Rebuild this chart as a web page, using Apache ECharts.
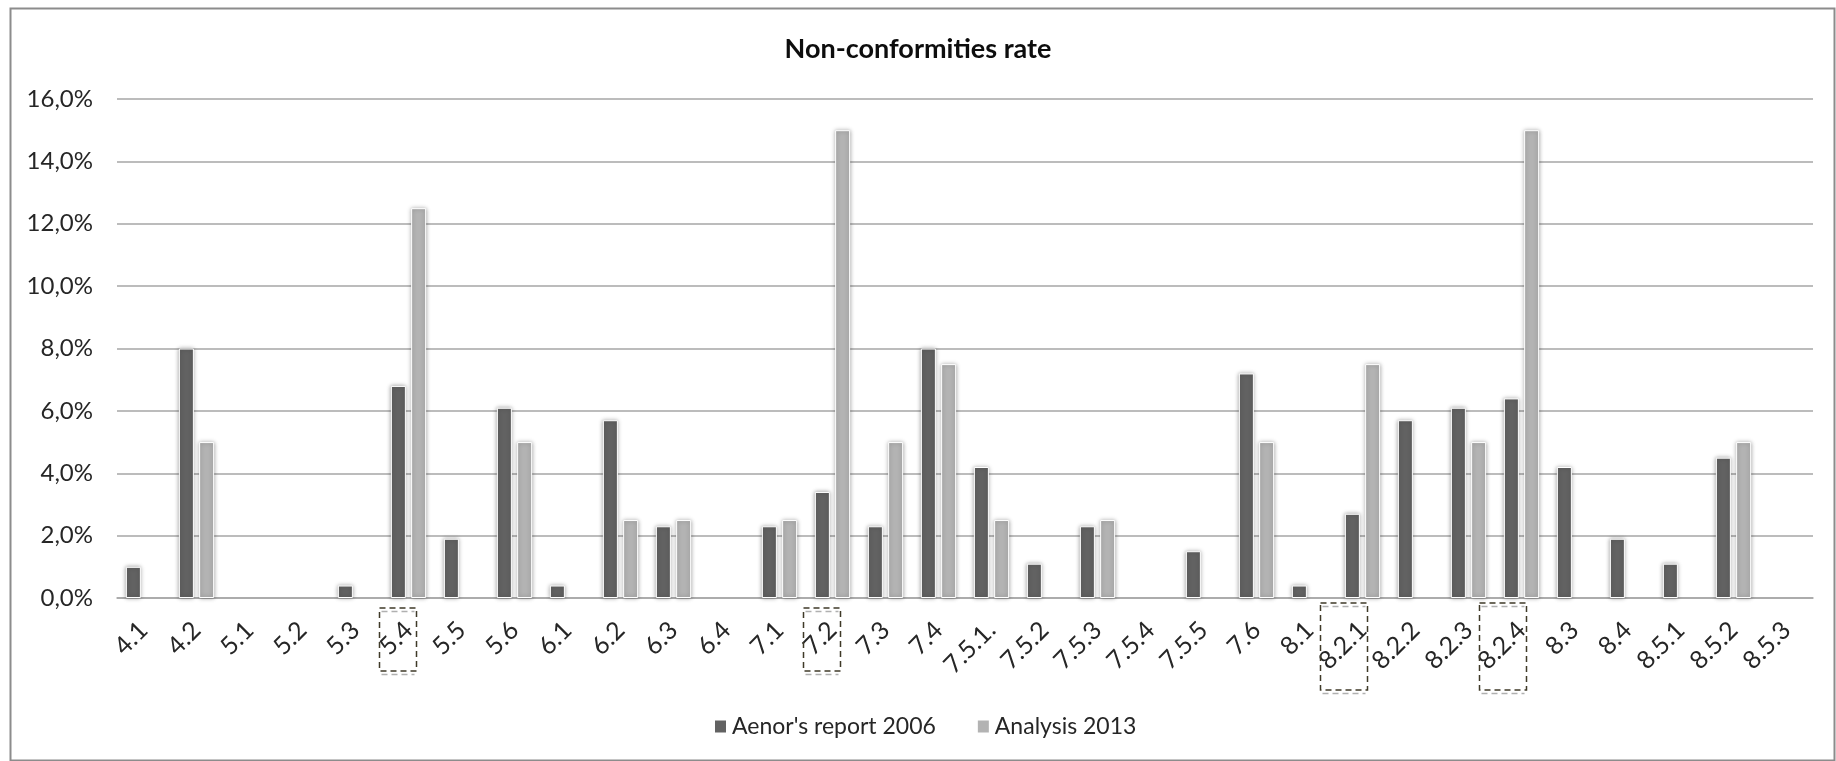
<!DOCTYPE html>
<html>
<head>
<meta charset="utf-8">
<script src="https://cdn.jsdelivr.net/npm/echarts@6/dist/echarts.min.js"></script>
<style>
html,body{margin:0;padding:0;background:#fff;}
#chart{width:1836px;height:761px;}
</style>
</head>
<body>
<div id="chart"></div>
<script>
const categories = ['4.1','4.2','5.1','5.2','5.3','5.4','5.5','5.6','6.1','6.2','6.3','6.4','7.1','7.2','7.3','7.4','7.5.1.','7.5.2','7.5.3','7.5.4','7.5.5','7.6','8.1','8.2.1','8.2.2','8.2.3','8.2.4','8.3','8.4','8.5.1','8.5.2','8.5.3'];
const aenor2006 = [1.0, 8.0, 0, 0, 0.4, 6.8, 1.9, 6.1, 0.4, 5.7, 2.3, 0, 2.3, 3.4, 2.3, 8.0, 4.2, 1.1, 2.3, 0, 1.5, 7.2, 0.4, 2.7, 5.7, 6.1, 6.4, 4.2, 1.9, 1.1, 4.5, 0];
const analysis2013 = [0, 5.0, 0, 0, 0, 12.5, 0, 5.0, 0, 2.5, 2.5, 0, 2.5, 15.0, 5.0, 7.5, 2.5, 0, 2.5, 0, 0, 5.0, 0, 7.5, 0, 5.0, 15.0, 0, 0, 0, 5.0, 0];
const seriesNames = ["Aenor's report 2006", 'Analysis 2013'];
const highlighted = ['5.4', '7.2', '8.2.1', '8.2.4'];
const yTicks = {min: 0, max: 16, interval: 2};

const FONT = 'Lato';
const chart = echarts.init(document.getElementById('chart'));
const barStyle = (color) => ({
  color: color,
  borderColor: '#ffffff',
  borderWidth: 1,
  shadowBlur: 4,
  shadowColor: 'rgba(0,0,0,0.35)'
});
const toDraw = arr => arr.map(v => v === 0 ? null : v);

chart.setOption({
  animation: false,
  backgroundColor: '#fff',
  title: {
    text: 'Non-conformities rate',
    left: 'center',
    top: 31,
    textStyle: {fontFamily: FONT, fontSize: 27, fontWeight: 'bold', color: '#0d0d0d'}
  },
  legend: {
    top: 710,
    left: 708,
    itemWidth: 13,
    itemHeight: 14,
    itemGap: 40,
    icon: 'rect',
    textStyle: {fontFamily: FONT, fontSize: 23, color: '#262626'},
    data: seriesNames
  },
  grid: {left: 117, right: 23, top: 99, bottom: 163, containLabel: false},
  xAxis: {
    type: 'category',
    data: categories,
    axisLine: {lineStyle: {color: '#a6a6a6', width: 1.5}},
    axisTick: {show: false},
    axisLabel: {rotate: 45, interval: 0, margin: 28, fontFamily: FONT, fontSize: 25, color: '#262626'}
  },
  yAxis: {
    type: 'value',
    min: yTicks.min,
    max: yTicks.max,
    interval: yTicks.interval,
    axisLine: {show: false},
    axisTick: {show: false},
    splitLine: {lineStyle: {color: '#a6a6a6', width: 1.5}},
    axisLabel: {
      margin: 24,
      fontFamily: FONT, fontSize: 24, color: '#262626',
      formatter: v => v.toFixed(1).replace('.', ',') + '%'
    }
  },
  series: [
    {name: seriesNames[0], type: 'bar', data: toDraw(aenor2006), barWidth: 15, barGap: '35%', itemStyle: barStyle('#626262')},
    {name: seriesNames[1], type: 'bar', data: toDraw(analysis2013), barWidth: 15, barGap: '35%', itemStyle: barStyle('#b3b3b3')}
  ]
});

// Annotation boxes around highlighted category labels, positioned from the axis scale
const y0 = chart.convertToPixel({yAxisIndex: 0}, 0);
const graphics = [{
  type: 'rect', left: 8, top: 6, silent: true,
  shape: {x: 0, y: 0, width: 1824, height: 752},
  style: {fill: null, stroke: '#8c8c8c', lineWidth: 2}
}];
highlighted.forEach(c => {
  const x = chart.convertToPixel({xAxisIndex: 0}, c);
  const long = c.length > 3;
  const w = long ? 47 : 37, h = long ? 87 : 63;
  const right = x + (long ? 5 : 8);
  const top = y0 + (long ? 5 : 10);
  graphics.push({
    type: 'rect', silent: true, z: 10,
    shape: {x: right - w, y: top, width: w, height: h},
    style: {fill: null, stroke: '#3f3a28', lineWidth: 1.5, lineDash: [6, 4]}
  });
  graphics.push({
    type: 'line', silent: true, z: 9,
    shape: {x1: right - w + 2, y1: top + 3.5, x2: right - 2, y2: top + 3.5},
    style: {stroke: '#b0b0b0', lineWidth: 1.5, lineDash: [6, 4]}
  });
  graphics.push({
    type: 'line', silent: true, z: 9,
    shape: {x1: right - w + 2, y1: top + h + 3.5, x2: right - 2, y2: top + h + 3.5},
    style: {stroke: '#b0b0b0', lineWidth: 1.5, lineDash: [6, 4]}
  });
});
chart.setOption({graphic: graphics});
</script>
</body>
</html>
